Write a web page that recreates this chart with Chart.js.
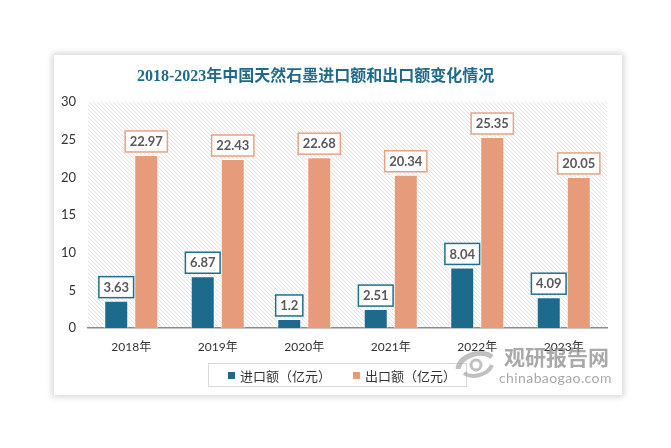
<!DOCTYPE html>
<html><head><meta charset="utf-8">
<script src="https://cdn.jsdelivr.net/npm/chart.js@4"></script>
<style>
html,body{margin:0;padding:0;background:#fff;width:671px;height:448px;overflow:hidden;font-family:Lato,"Noto Sans CJK SC",sans-serif;}
#card{position:absolute;left:54px;top:55px;width:568px;height:340px;background:#fff;box-shadow:0 0 6px 2px rgba(0,0,0,0.16);}
#chart{position:absolute;left:0;top:0;}
#title{position:absolute;left:83px;top:10px;font:bold 16px "Liberation Serif","Noto Sans CJK SC",serif;color:#1f6a8b;line-height:22px;white-space:nowrap;}
#legend{position:absolute;left:154px;top:308px;width:259px;height:24px;border:1px solid #d9d9d9;box-sizing:border-box;display:flex;align-items:center;font:13px "Noto Sans CJK SC",sans-serif;color:#333;}
#legend .it{display:flex;align-items:center;margin-left:19px;}
#legend .it + .it{margin-left:22px;}
#legend .sw{width:7px;height:7px;margin-right:5px;}
#wm{position:absolute;left:398px;top:286px;color:rgba(140,140,140,0.75);pointer-events:none;}
#wm .cn{position:absolute;left:52px;top:0;font:bold 21px "Noto Sans CJK SC",sans-serif;white-space:nowrap;letter-spacing:0px;}
#wm .en{position:absolute;left:47px;top:28px;font:14px Lato,sans-serif;white-space:nowrap;letter-spacing:0.4px;}
#wm svg{position:absolute;left:0;top:6px;}
</style></head>
<body>
<div id="card">
  <canvas id="chart" width="568" height="340"></canvas>
  <div id="title"></div>
  <div id="legend"></div>
  <div id="wm">
    <svg width="48" height="34" viewBox="0 0 48 34"><path d="M6 22 C8 8 30 2 40 10" stroke="rgba(150,150,150,0.6)" stroke-width="5" fill="none"/><path d="M12 26 C20 32 36 28 40 18" stroke="rgba(150,150,150,0.6)" stroke-width="4" fill="none"/><circle cx="24" cy="18" r="5" fill="none" stroke="rgba(150,150,150,0.6)" stroke-width="3"/></svg>
    <div class="cn">观研报告网</div>
    <div class="en">chinabaogao.com</div>
  </div>
</div>
<script>
const titleText = "2018-2023年中国天然石墨进口额和出口额变化情况";
const categories = ["2018年","2019年","2020年","2021年","2022年","2023年"];
const importValues = [3.63, 6.87, 1.2, 2.51, 8.04, 4.09];
const exportValues = [22.97, 22.43, 22.68, 20.34, 25.35, 20.05];
const seriesNames = ["进口额（亿元）", "出口额（亿元）"];
const seriesColors = ["#1c6b8d", "#e69c7b"];
const labelBorderColors = ["#1f6f91", "#e8a283"];
const yTicks = [0, 5, 10, 15, 20, 25, 30];

document.getElementById('title').textContent = titleText;
const lg = document.getElementById('legend');
seriesNames.forEach((n, i) => {
  const it = document.createElement('div'); it.className = 'it';
  const sw = document.createElement('div'); sw.className = 'sw'; sw.style.background = seriesColors[i];
  const tx = document.createElement('span'); tx.textContent = n;
  it.appendChild(sw); it.appendChild(tx); lg.appendChild(it);
});

// hatch pattern
const pc = document.createElement('canvas'); pc.width = 4; pc.height = 4;
const p = pc.getContext('2d');
p.strokeStyle = '#e2e2e2'; p.lineWidth = 1;
p.beginPath();
p.moveTo(-1,-1); p.lineTo(5,5);
p.moveTo(-1,3); p.lineTo(1,5);
p.moveTo(3,-1); p.lineTo(5,1);
p.stroke();

const bgPlugin = {
  id: 'bg',
  beforeDraw(chart) {
    const {ctx, chartArea: a} = chart;
    ctx.save();
    ctx.fillStyle = ctx.createPattern(pc, 'repeat');
    ctx.fillRect(a.left, a.top, a.right - a.left, a.bottom - a.top);
    ctx.restore();
  }
};

const labelPlugin = {
  id: 'boxLabels',
  afterDatasetsDraw(chart) {
    const ctx = chart.ctx;
    ctx.save();
    ctx.font = 'bold 13px Lato, sans-serif';
    ctx.textAlign = 'center';
    ctx.textBaseline = 'middle';
    chart.data.datasets.forEach((ds, di) => {
      const meta = chart.getDatasetMeta(di);
      meta.data.forEach((bar, i) => {
        const txt = String(ds.data[i]);
        const w = ctx.measureText(txt).width + 9;
        const h = 21;
        const x = bar.x - w / 2;
        const y = bar.y - 3 - h;
        ctx.fillStyle = '#fff';
        ctx.fillRect(x, y, w, h);
        ctx.strokeStyle = labelBorderColors[di];
        ctx.lineWidth = 1.5;
        ctx.strokeRect(x, y, w, h);
        ctx.fillStyle = '#595959';
        ctx.fillText(txt, bar.x, y + h / 2 + 0.5);
      });
    });
    ctx.restore();
  }
};

new Chart(document.getElementById('chart'), {
  type: 'bar',
  data: {
    labels: categories,
    datasets: [
      {label: seriesNames[0], data: importValues, backgroundColor: seriesColors[0], borderColor: 'rgba(255,255,255,0.7)', borderWidth: 1},
      {label: seriesNames[1], data: exportValues, backgroundColor: seriesColors[1], borderColor: 'rgba(255,255,255,0.7)', borderWidth: 1}
    ]
  },
  options: {
    responsive: false,
    animation: false,
    events: [],
    layout: {padding: {left: 0, right: 15, top: 47, bottom: 0}},
    datasets: {bar: {categoryPercentage: 0.694, barPercentage: 0.8}},
    plugins: {legend: {display: false}, title: {display: false}, tooltip: {enabled: false}},
    scales: {
      x: {
        grid: {display: false, drawTicks: false},
        border: {display: true, color: '#8c8c8c', width: 1.5},
        ticks: {color: '#333', font: {size: 12, family: 'Lato, "Noto Sans CJK SC", sans-serif'}, padding: 12},
        afterFit(s) { s.height = 67; }
      },
      y: {
        min: 0, max: 30,
        grid: {display: false, drawTicks: false},
        border: {display: false},
        afterBuildTicks(s) { s.ticks = yTicks.map(v => ({value: v})); },
        ticks: {color: '#333', font: {size: 13, family: 'Lato, sans-serif'}, padding: 12},
        afterFit(s) { s.width = 34; }
      }
    }
  },
  plugins: [bgPlugin, labelPlugin]
});
</script>
</body></html>
